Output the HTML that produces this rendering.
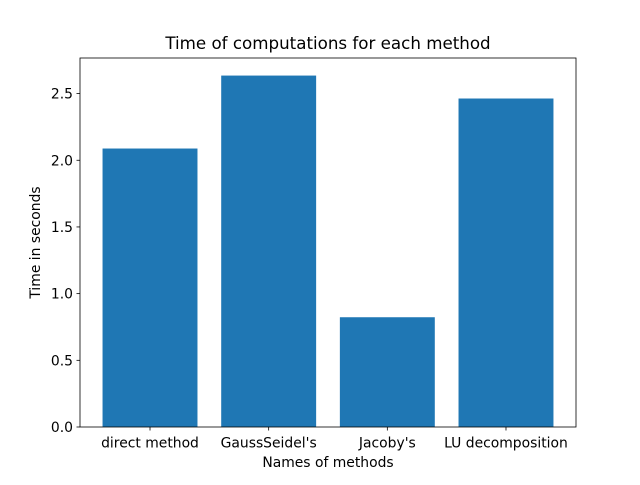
<!DOCTYPE html>
<html><head><meta charset="utf-8"><style>
body{margin:0;background:#fff;}
svg text{font-family:"DejaVu Sans","Liberation Sans",sans-serif;fill:#000;}
</style></head><body>
<svg id="chart" width="640" height="480" xmlns="http://www.w3.org/2000/svg">
<rect width="640" height="480" fill="#fff"/>
<text x="328" y="49" font-size="16.7" text-anchor="middle">Time of computations for each method</text>
<g id="bars"></g>
<g id="xticks"></g>
<g id="yticks"></g>
<rect x="80" y="58" width="496" height="369" fill="none" stroke="#000" stroke-width="0.8"/>
<text x="328" y="467" font-size="13.9" text-anchor="middle">Names of methods</text>
<text transform="translate(40,242.5) rotate(-90)" font-size="13.9" text-anchor="middle">Time in seconds</text>
</svg>
<script>
const categories = ["direct method", "GaussSeidel's", "Jacoby's", "LU decomposition"];
const values = [2.088, 2.635, 0.823, 2.463];
const yTicks = [0.0, 0.5, 1.0, 1.5, 2.0, 2.5];
const yTickLabels = ["0.0", "0.5", "1.0", "1.5", "2.0", "2.5"];

const NS = "http://www.w3.org/2000/svg";
const L = 80, R = 576, T = 58, B = 427;
const ymax = Math.max(...values) * 1.05;
const xmin = -0.4 - 0.05 * (categories.length - 0.2), xmax = categories.length - 0.6 + 0.05 * (categories.length - 0.2);
const y = v => B - v / ymax * (B - T);
const x = v => L + (v - xmin) / (xmax - xmin) * (R - L);
function mk(tag, attrs, parent) { const e = document.createElementNS(NS, tag); for (const k in attrs) e.setAttribute(k, attrs[k]); parent.appendChild(e); return e; }
const bars = document.getElementById('bars'), xt = document.getElementById('xticks'), yt = document.getElementById('yticks');
values.forEach((v, i) => {
  const r = mk('rect', { x: x(i - 0.4), y: y(v), width: x(i + 0.4) - x(i - 0.4), height: B - y(v), fill: '#1f77b4' }, bars);
  
  
  const tk = mk('line', { x1: x(i), x2: x(i), y1: B, y2: B + 3.5, stroke: '#000', 'stroke-width': 0.8 }, xt);
  
  
  const t = mk('text', { x: x(i), y: B + 20.5, 'font-size': 13.9, 'text-anchor': 'middle' }, xt);
  t.textContent = categories[i];
  
  
});
yTicks.forEach((v, i) => {
  const tk = mk('line', { x1: L - 3.5, x2: L, y1: y(v), y2: y(v), stroke: '#000', 'stroke-width': 0.8 }, yt);
  
  
  const t = mk('text', { x: L - 7, y: y(v) + 5, 'font-size': 13.9, 'text-anchor': 'end' }, yt);
  t.textContent = yTickLabels[i];
  
  
});
</script>
</body></html>
